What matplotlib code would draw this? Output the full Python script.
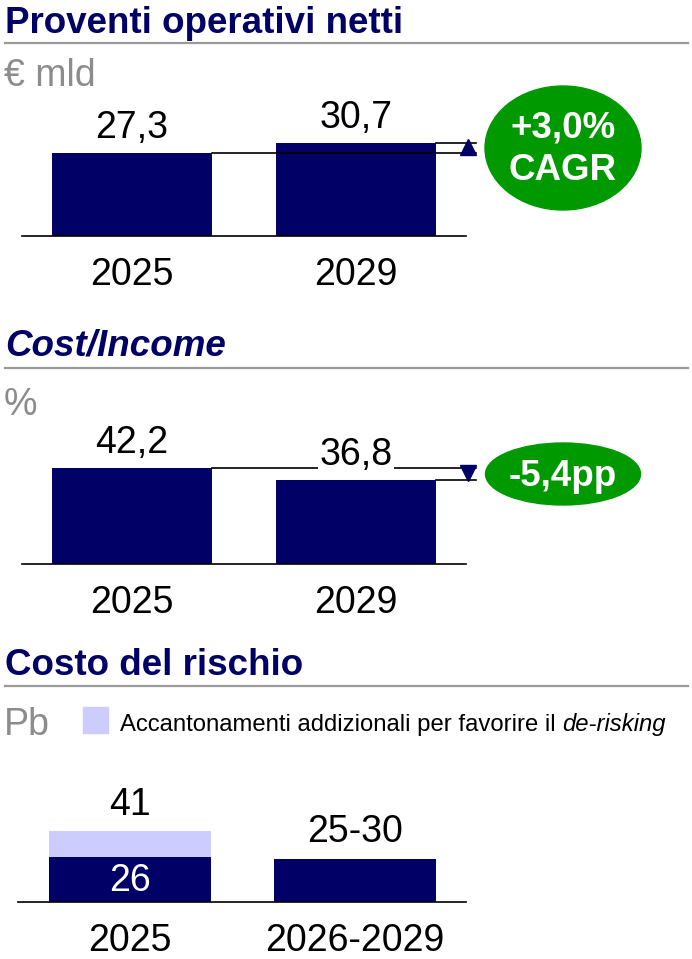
import matplotlib
matplotlib.use('Agg')
import matplotlib.pyplot as plt
from matplotlib.patches import Ellipse, Rectangle
from matplotlib.lines import Line2D

plt.rcParams['font.family'] = ['Liberation Sans', 'DejaVu Sans']

W, H = 692, 959
NAVY = '#000066'
LIGHT = '#ccccff'
GREEN = '#009900'
GREY_TXT = '#8c8c8c'
GREY_LINE = '#9a9a9a'

# data
years_1 = ['2025', '2029']
proventi = [27.3, 30.7]
proventi_lbl = ['27,3', '30,7']
cagr_lbl = '+3,0%\nCAGR'

years_2 = ['2025', '2029']
cost_income = [42.2, 36.8]
ci_lbl = ['42,2', '36,8']
ci_delta = '-5,4pp'

years_3 = ['2025', '2026-2029']
costo_base = [26, 25]
costo_extra = [15, 0]
costo_lbl = ['41', '25-30']
base_lbl = ['26', '']
legend_lbl = 'Accantonamenti addizionali per favorire il '
legend_it = 'de-risking'

fig = plt.figure(figsize=(W / 100, H / 100), dpi=100)


def fx(x):
    return x / W


def fy(y):
    return 1 - y / H


def panel(left, right, c0, c1, base, scale, ymax):
    top = base - scale * ymax
    ax = fig.add_axes([fx(left), fy(base), (right - left) / W, (base - top) / H])
    s = c1 - c0
    ax.set_xlim((left - c0) / s, (right - c0) / s)
    ax.set_ylim(0, ymax)
    for sp in ['top', 'left', 'right']:
        ax.spines[sp].set_visible(False)
    ax.spines['bottom'].set_linewidth(1.2)
    ax.set_yticks([])
    ax.tick_params(axis='x', length=0, pad=15, labelsize=27)
    ax.patch.set_alpha(0)
    return ax, 160 / s


def header(y_text, y_line, title, style='normal'):
    fig.text(fx(5), fy(y_text), title, fontsize=26.5, weight='bold', style=style,
             color=NAVY, va='baseline')
    fig.add_artist(Line2D([fx(5), fx(688)], [fy(y_line), fy(y_line)],
                          color=GREY_LINE, lw=1.6))


def unit(y, txt):
    fig.text(fx(4), fy(y), txt, fontsize=27, color=GREY_TXT, va='baseline')


def bubble(cx, cy, w, h, txt, lines_y):
    fig.add_artist(Ellipse((fx(cx), fy(cy)), w / W, h / H, color=GREEN,
                           transform=fig.transFigure))
    for t, yy in zip(txt.split('\n'), lines_y):
        fig.text(fx(cx), fy(yy), t, fontsize=26.5, weight='bold', color='white',
                 ha='center', va='center')


# ---- Proventi operativi netti
header(33, 43, 'Proventi operativi netti')
unit(86, '€ mld')
ax1, bw = panel(22, 466, 132, 356, 236, 3.04, 40)
x = [0, 1]
ax1.bar(x, proventi, width=bw, color=NAVY)
ax1.set_xticks(x, years_1)
for xi, v, l in zip(x, proventi, proventi_lbl):
    ax1.annotate(l, (xi, v), xytext=(0, 18), textcoords='offset points',
                 ha='center', va='center', fontsize=27)
xe = (476 - 132) / 224
ax1.plot([bw / 2, xe], [proventi[0]] * 2, color='black', lw=1.2, clip_on=False)
ax1.plot([1 + bw / 2, xe], [proventi[1]] * 2, color='black', lw=1.2, clip_on=False)
ax1.plot(1.5, (proventi[0] + proventi[1]) / 2 + 0.3, marker='^', ms=11,
         color=NAVY, clip_on=False)
bubble(563, 148, 156, 124, cagr_lbl, [128, 170])

# ---- Cost/Income
header(356, 368, 'Cost/Income', style='italic')
unit(415, '%')
ax2, bw = panel(22, 466, 132, 356, 564, 2.27, 50)
ax2.bar(x, cost_income, width=bw, color=NAVY)
ax2.set_xticks(x, years_2)
ax2.plot([bw / 2, xe], [cost_income[0]] * 2, color='black', lw=1.2,
         clip_on=False, zorder=1)
ax2.plot([1 + bw / 2, xe], [cost_income[1]] * 2, color='black', lw=1.2,
         clip_on=False)
for xi, v, l in zip(x, cost_income, ci_lbl):
    ax2.annotate(l, (xi, v), xytext=(0, 18), textcoords='offset points',
                 ha='center', va='center', fontsize=27, zorder=5,
                 bbox=dict(facecolor='white', edgecolor='none', pad=1))
ax2.plot(1.5, (cost_income[0] + cost_income[1]) / 2 + 0.5, marker='v', ms=11,
         color=NAVY, clip_on=False)
bubble(563, 474, 155, 62, ci_delta, [476])

# ---- Costo del rischio
header(675, 686, 'Costo del rischio')
unit(735, 'Pb')
fig.add_artist(Rectangle((fx(83), fy(733)), 25 / W, 26 / H, color=LIGHT,
                         transform=fig.transFigure))
t1 = fig.text(fx(120), fy(731), legend_lbl, fontsize=17.2, va='baseline')
fig.canvas.draw()
bb = t1.get_window_extent()
fig.text(bb.x1 / W, fy(731), legend_it, fontsize=17.2, style='italic', va='baseline')

ax3, bw = panel(18, 466, 130, 355, 902, 1.73, 60)
ax3.bar(x, costo_base, width=bw * 162 / 160, color=NAVY)
ax3.bar(x, costo_extra, bottom=costo_base, width=bw * 162 / 160, color=LIGHT)
ax3.set_xticks(x, years_3)
for xi, b, e, l, bl in zip(x, costo_base, costo_extra, costo_lbl, base_lbl):
    ax3.annotate(l, (xi, b + e), xytext=(0, 19), textcoords='offset points',
                 ha='center', va='center', fontsize=27)
    if bl:
        ax3.text(xi, b / 2 - 1, bl, ha='center', va='center', fontsize=27, color='white')

fig.savefig('out.png', dpi=100)
